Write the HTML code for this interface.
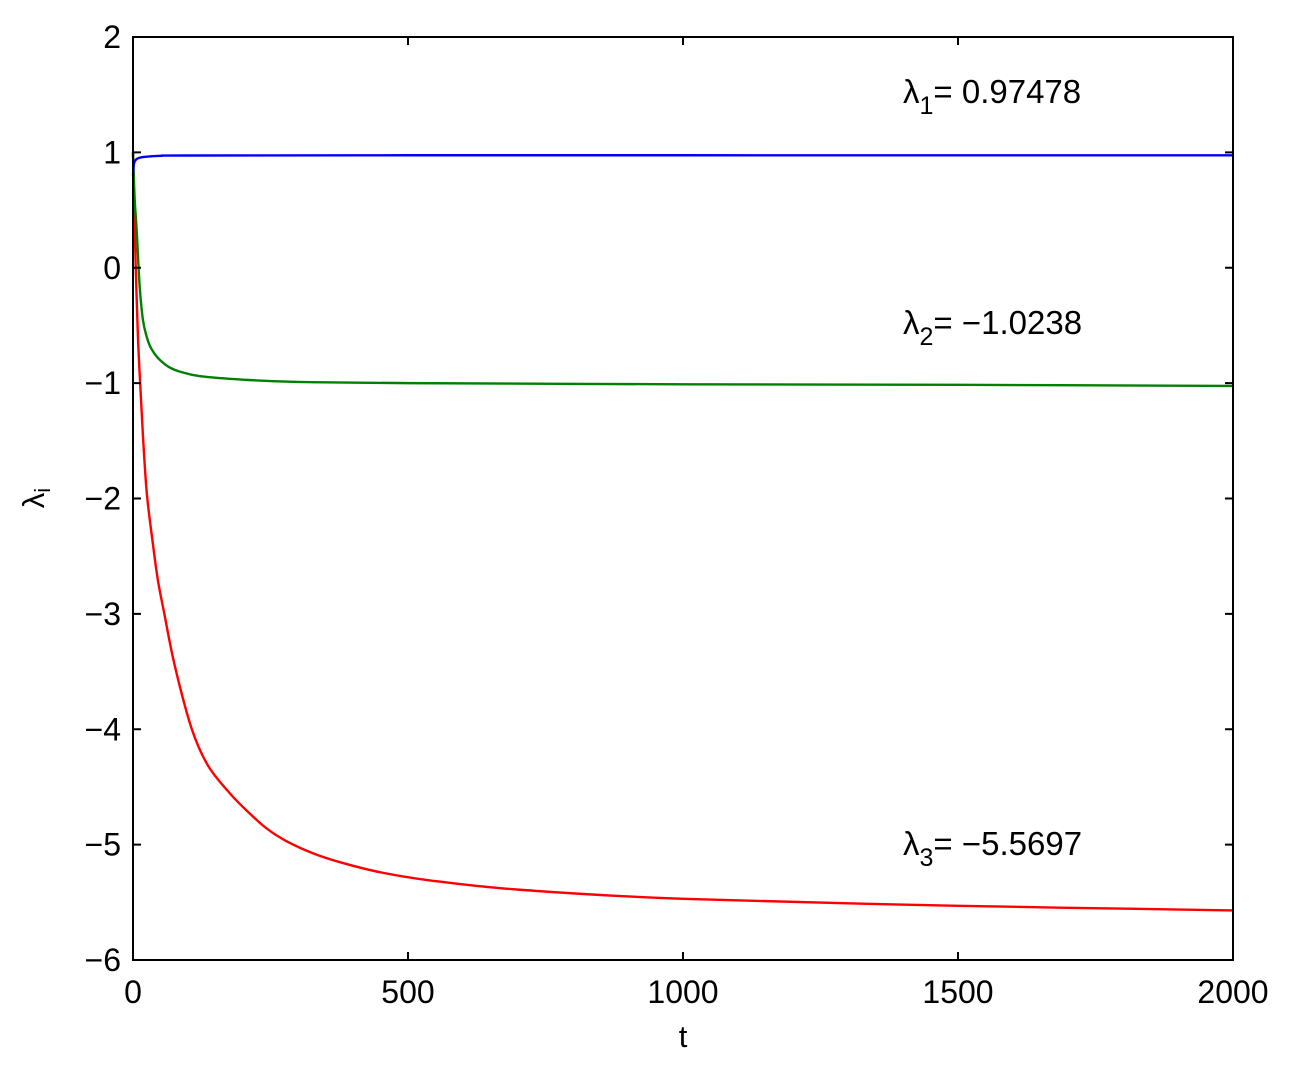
<!DOCTYPE html>
<html><head><meta charset="utf-8"><style>
html,body{margin:0;padding:0;background:#fff;}
svg text{font-family:"Liberation Sans",Arial,sans-serif;fill:#000;}
</style></head><body>
<svg id="chart" width="1291" height="1064" viewBox="0 0 1291 1064">
<rect x="0" y="0" width="1291" height="1064" fill="#fff"/>
<g id="series"></g>
<rect x="133" y="37" width="1100" height="923" fill="none" stroke="#000" stroke-width="2"/>
<g id="axes"></g>
<text x="683" y="1047" font-size="31" text-anchor="middle">t</text>
<text transform="translate(44,498) rotate(-90)" font-size="31" text-anchor="middle">λ<tspan font-size="22" dy="6">i</tspan></text>
<text x="903" y="103" font-size="33">λ<tspan font-size="25" dy="11">1</tspan><tspan dy="-11">= 0.97478</tspan></text>
<text x="903" y="334" font-size="33">λ<tspan font-size="25" dy="11">2</tspan><tspan dy="-11">= −1.0238</tspan></text>
<text x="903" y="855" font-size="33">λ<tspan font-size="25" dy="11">3</tspan><tspan dy="-11">= −5.5697</tspan></text>
</svg>
<script>
const xTicks=[0,500,1000,1500,2000];
const yTicks=[2,1,0,-1,-2,-3,-4,-5,-6];
const tBlue=[0,1,3,6,10,20,50,100,500,1000,2000];
const vBlue=[0.8,0.88,0.92,0.94,0.95,0.96,0.97,0.973,0.975,0.975,0.9748];
const tGreen=[0,3,7,12,18,25,31,40,49,65,85,122,200,300,500,1000,1500,2000];
const vGreen=[1,0.6,0.3,-0.15,-0.45,-0.6,-0.68,-0.75,-0.8,-0.86,-0.9,-0.94,-0.97,-0.99,-1.0,-1.01,-1.015,-1.024];
const tRed=[0,2,5,9,13,18,25,35,45,57,76,107,137,177,210,243,279,330,382,450,540,700,1000,1500,2000];
const vRed=[1,0.6,0,-0.6,-1.0,-1.45,-1.95,-2.35,-2.7,-3.0,-3.45,-4.0,-4.32,-4.56,-4.72,-4.86,-4.97,-5.08,-5.16,-5.24,-5.31,-5.39,-5.47,-5.53,-5.57];
const X=t=>133+t*1100/2000;
const Y=v=>37+(2-v)*923/8;
const NS='http://www.w3.org/2000/svg';
const ax=document.getElementById('axes');
xTicks.forEach(t=>{
  const x=X(t);
  [[960,952],[37,45]].forEach(([a,b])=>{
    const l=document.createElementNS(NS,'line');
    l.setAttribute('x1',x);l.setAttribute('x2',x);l.setAttribute('y1',a);l.setAttribute('y2',b);
    l.setAttribute('stroke','#000');l.setAttribute('stroke-width','2');
    
    
    ax.appendChild(l);
  });
  const tx=document.createElementNS(NS,'text');
  tx.setAttribute('x',x);tx.setAttribute('y',1003);tx.setAttribute('font-size','32');tx.setAttribute('text-anchor','middle');
  tx.textContent=t;
  
  
  ax.appendChild(tx);
});
yTicks.forEach(v=>{
  const y=Y(v);
  [[133,141],[1233,1225]].forEach(([a,b])=>{
    const l=document.createElementNS(NS,'line');
    l.setAttribute('x1',a);l.setAttribute('x2',b);l.setAttribute('y1',y);l.setAttribute('y2',y);
    l.setAttribute('stroke','#000');l.setAttribute('stroke-width','2');
    
    
    ax.appendChild(l);
  });
  const tx=document.createElementNS(NS,'text');
  tx.setAttribute('x',121);tx.setAttribute('y',y+11);tx.setAttribute('font-size','32');tx.setAttribute('text-anchor','end');
  tx.textContent=v<0?'−'+(-v):String(v);
  
  
  ax.appendChild(tx);
});
const sg=document.getElementById('series');
function draw(ts,vs,color,name){
  const P=ts.map((t,i)=>[X(t),Y(vs[i])]);
  let d='M'+P[0][0].toFixed(2)+','+P[0][1].toFixed(2);
  for(let i=0;i<P.length-1;i++){
    const p0=P[Math.max(0,i-1)],p1=P[i],p2=P[i+1],p3=P[Math.min(P.length-1,i+2)];
    const c1=[p1[0]+(p2[0]-p0[0])/6,p1[1]+(p2[1]-p0[1])/6];
    const c2=[p2[0]-(p3[0]-p1[0])/6,p2[1]-(p3[1]-p1[1])/6];
    d+='C'+c1.map(n=>n.toFixed(2)).join(',')+' '+c2.map(n=>n.toFixed(2)).join(',')+' '+p2.map(n=>n.toFixed(2)).join(',');
  }
  const p=document.createElementNS(NS,'path');
  p.setAttribute('d',d);
  p.setAttribute('fill','none');p.setAttribute('stroke',color);p.setAttribute('stroke-width','2.4');
  p.setAttribute('stroke-linejoin','round');
  
  
  sg.appendChild(p);
}
draw(tRed,vRed,'#ff0000','lambda3-line');
draw(tGreen,vGreen,'#008000','lambda2-line');
draw(tBlue,vBlue,'#0000ff','lambda1-line');
</script>
</body></html>
